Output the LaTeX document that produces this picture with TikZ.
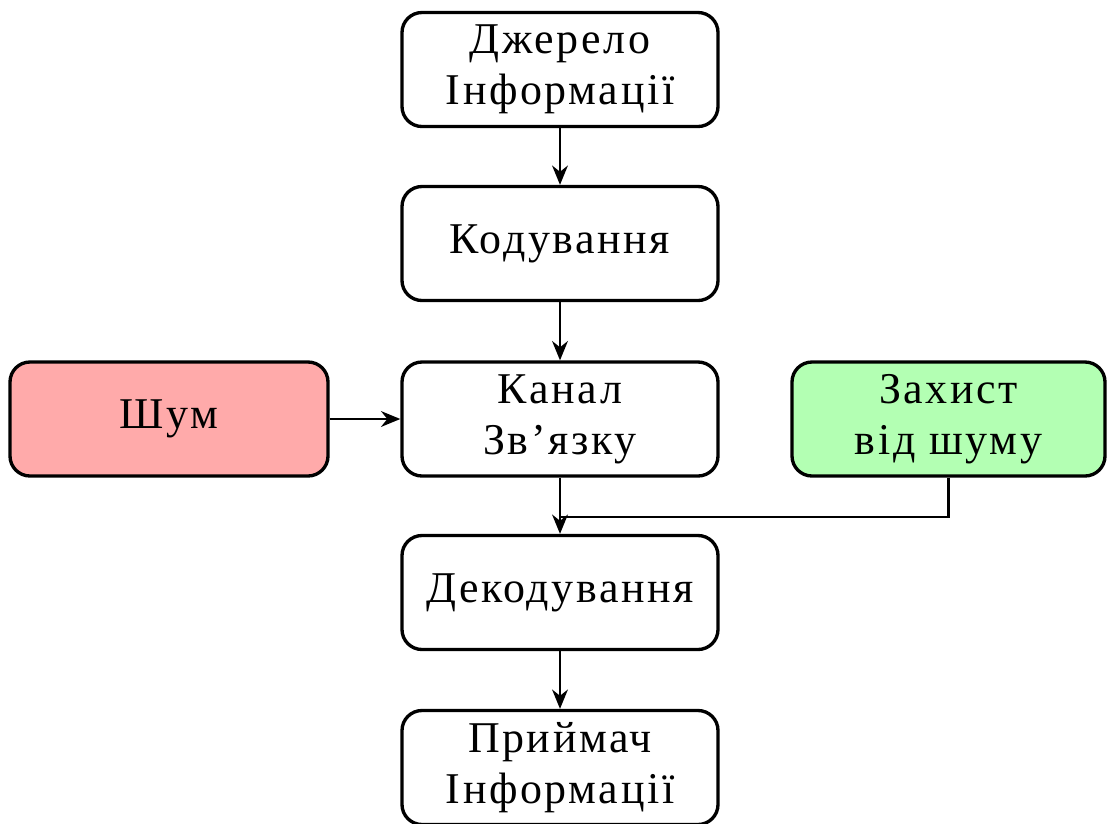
\documentclass[tikz,border=0pt]{standalone}
\usepackage{fontspec}
\setmainfont{Liberation Serif}[LetterSpace=6]
\usetikzlibrary{arrows.meta,calc}
\definecolor{noisered}{RGB}{255,170,170}
\definecolor{protgreen}{RGB}{179,255,179}
\begin{document}
\begin{tikzpicture}[x=0.02cm,y=-0.02cm,
  blk/.style={draw,line width=1.9pt,rounded corners=0.4cm,minimum width=316*0.02cm,minimum height=114*0.02cm,align=center,font=\fontsize{25}{29}\selectfont,inner sep=0pt},
  conn/.style={line width=1.3pt,-{Stealth[length=11pt,width=9pt]}},
  plain/.style={line width=1.3pt}]
\useasboundingbox (0,0) rectangle (1107,823);
\node[blk] (src) at (560,69.5) {Джерело\\Інформації};
\node[blk] (enc) at (560,243.5) {Кодування};
\node[blk] (ch) at (560,419) {Канал\\Зв’язку};
\node[blk] (dec) at (560,592.5) {Декодування};
\node[blk] (rcv) at (560,767.5) {Приймач\\Інформації};
\node[blk,fill=noisered,minimum width=318*0.02cm] (noise) at (169,419) {Шум};
\node[blk,fill=protgreen,minimum width=313*0.02cm] (prot) at (948.5,419) {Захист\\від шуму};
\coordinate (j) at (560,517);
\draw[conn] (src) -- (enc);
\draw[conn] (enc) -- (ch);
\draw[conn] (ch) -- (dec);
\draw[conn] (dec) -- (rcv);
\draw[conn] (noise) -- (ch);
\draw[plain] (prot.south) |- (j);
\end{tikzpicture}
\end{document}
